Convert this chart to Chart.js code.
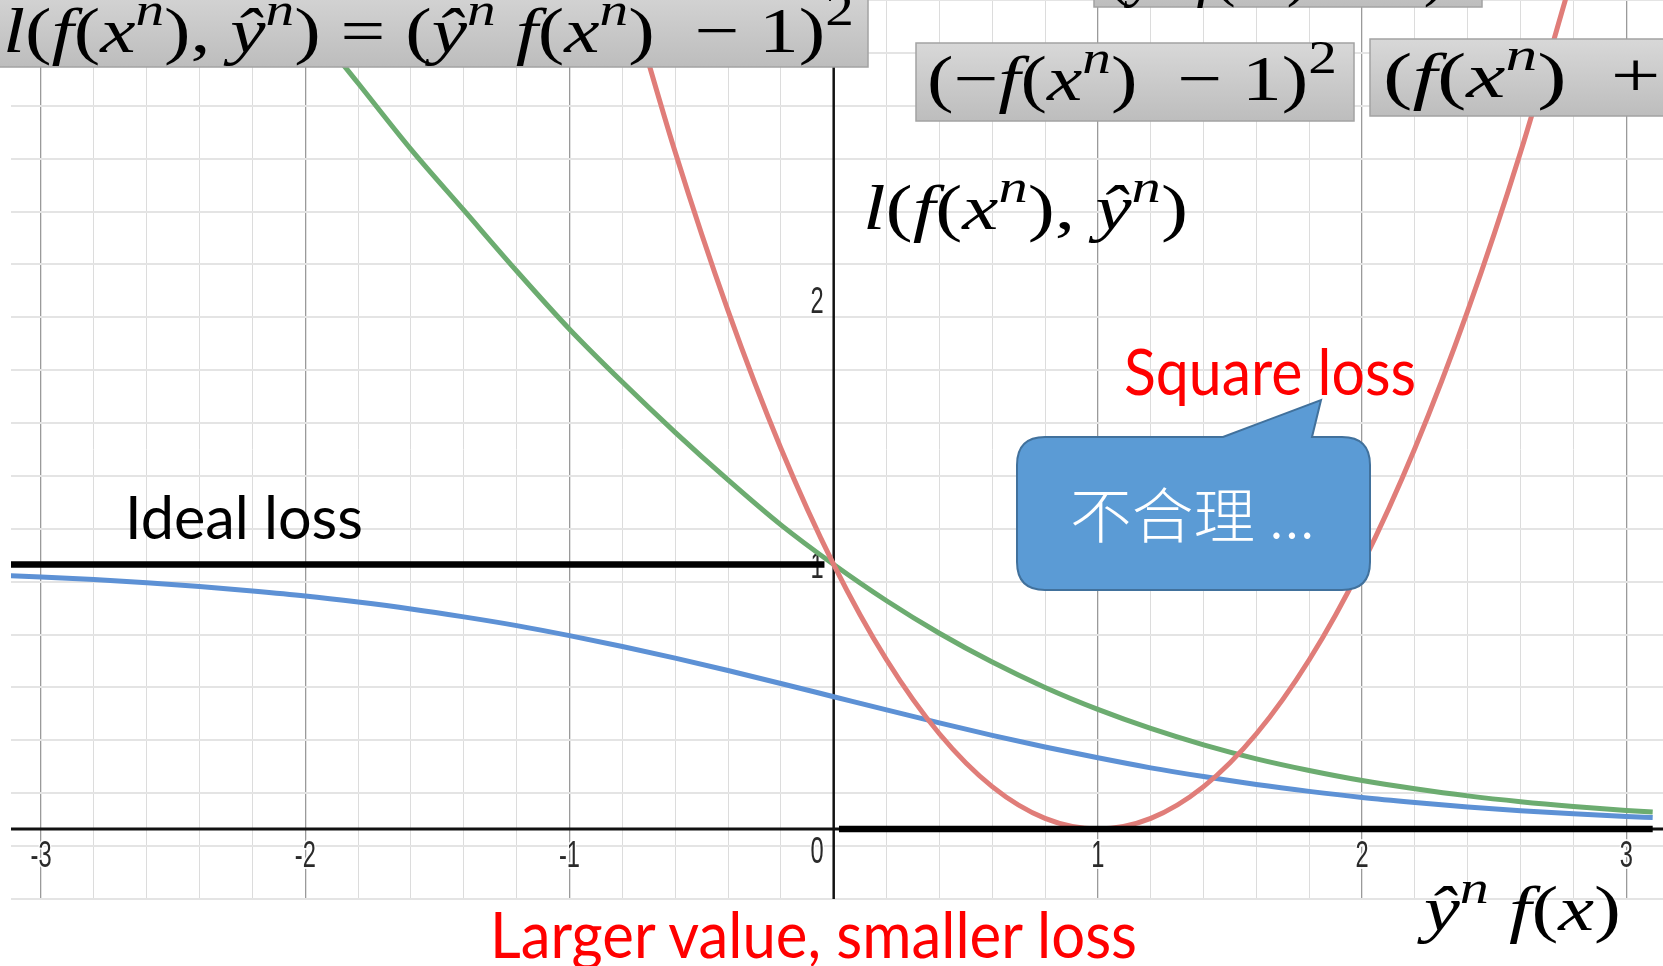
<!DOCTYPE html>
<html>
<head>
<meta charset="utf-8">
<script src="https://cdn.jsdelivr.net/npm/chart.js@4"></script>
<style>
  html, body { margin: 0; padding: 0; background: #fff; overflow: hidden; }
  #wrap { position: relative; width: 1663px; height: 966px; }
  #lossChart { position: absolute; left: 0; top: 0; }
  #notes { position: absolute; left: 0; top: 0; pointer-events: none; }
  #notes text { white-space: pre; }
</style>
</head>
<body>
<div id="wrap">
  <canvas id="lossChart" width="1663" height="966"></canvas>
  <svg id="notes" width="1663" height="966" xmlns="http://www.w3.org/2000/svg"></svg>
</div>
<script>
// sample positions along y^n f(x)
const xs = [-3.2, -3.0, -2.8, -2.6, -2.4, -2.2, -2.0, -1.8, -1.6, -1.4, -1.2, -1.0, -0.8,
  -0.6, -0.4, -0.2, 0, 0.2, 0.4, 0.6, 0.8, 1.0, 1.2, 1.4, 1.6, 1.8, 2.0, 2.2, 2.4, 2.6,
  2.8, 3.0, 3.1];

// red curve
const squareLoss = [null, null, null, null, null, null, null, null, null, null, null, null,
  3.24, 2.56, 1.96, 1.44, 1, 0.64, 0.36, 0.16, 0.04, 0, 0.04, 0.16, 0.36, 0.64, 1, 1.44,
  1.96, 2.56, 3.24, null, null];

// green curve
const crossEntropyLoss = [null, null, null, null, null, 3.33, 3.07, 2.82, 2.57, 2.34, 2.11,
  1.89, 1.69, 1.50, 1.32, 1.15, 1.00, 0.863, 0.740, 0.631, 0.535, 0.452, 0.380, 0.318,
  0.265, 0.221, 0.183, 0.152, 0.125, 0.103, 0.085, 0.070, 0.064];

// blue curve
const sigmoidLoss = [0.961, 0.953, 0.943, 0.931, 0.917, 0.900, 0.881, 0.858, 0.832, 0.802,
  0.769, 0.731, 0.690, 0.646, 0.599, 0.550, 0.500, 0.450, 0.401, 0.354, 0.310, 0.269,
  0.231, 0.198, 0.168, 0.142, 0.119, 0.100, 0.083, 0.069, 0.057, 0.047, 0.043];

// black step (ideal loss)
const idealX = [-3.2, -0.035, -0.035, 0.02, 3.1];
const idealY = [1, 1, null, 0, 0];

// axis numbers
const xTicks = [-3, -2, -1, 1, 2, 3];
const yTicks = [1, 2, 3];

function points(xv, yv) {
  return xv.map((x, i) => ({ x: x, y: yv[i] }));
}

function isMajor(v) {
  return Math.abs(v - Math.round(v)) < 1e-6;
}

// origin axes and desmos style numbers, drawn under the curves
const originAxes = {
  id: 'originAxes',
  beforeDatasetsDraw(chart) {
    const { ctx, chartArea: a, scales: { x, y } } = chart;
    const px0 = x.getPixelForValue(0);
    const py0 = y.getPixelForValue(0);
    ctx.save();
    ctx.strokeStyle = '#111';
    ctx.lineWidth = 2.5;
    ctx.beginPath();
    ctx.moveTo(px0, a.top);
    ctx.lineTo(px0, a.bottom);
    ctx.stroke();
    ctx.lineWidth = 3;
    ctx.beginPath();
    ctx.moveTo(a.left, py0);
    ctx.lineTo(a.right, py0);
    ctx.stroke();

    ctx.font = '37px "Liberation Sans", Arial, sans-serif';
    ctx.textBaseline = 'middle';
    const label = (txt, px, py, align) => {
      ctx.save();
      ctx.translate(px, py);
      ctx.scale(0.64, 1);
      ctx.textAlign = align;
      ctx.lineWidth = 4;
      ctx.strokeStyle = 'rgba(255,255,255,0.85)';
      ctx.strokeText(txt, 0, 0);
      ctx.fillStyle = '#2a2a2a';
      ctx.fillText(txt, 0, 0);
      ctx.restore();
    };
    xTicks.forEach(v => label(String(v), x.getPixelForValue(v), py0 + 28, 'center'));
    yTicks.forEach(v => label(String(v), px0 - 10, y.getPixelForValue(v) + 3, 'right'));
    label('0', px0 - 10, py0 + 24, 'right');
    ctx.restore();
  }
};

function gridColor(minor, major) {
  return (c) => {
    const v = c.tick ? c.tick.value : 1;
    if (Math.abs(v) < 1e-6) return 'rgba(0,0,0,0)';
    return isMajor(v) ? major : minor;
  };
}
function gridWidth(minor, major) {
  return (c) => (c.tick && isMajor(c.tick.value) ? major : minor);
}

const curve = (label, values, color) => ({
  label: label,
  data: points(xs, values),
  borderColor: color,
  borderWidth: 5,
  pointRadius: 0,
  cubicInterpolationMode: 'monotone',
  spanGaps: false
});

new Chart(document.getElementById('lossChart'), {
  type: 'line',
  data: {
    datasets: [
      {
        label: 'Ideal loss',
        data: points(idealX, idealY),
        borderColor: '#000',
        borderWidth: 6.5,
        pointRadius: 0,
        tension: 0,
        spanGaps: false
      },
      curve('Square loss', squareLoss, '#e07d79'),
      curve('Cross entropy', crossEntropyLoss, '#6cac70'),
      curve('Sigmoid', sigmoidLoss, '#5d91d5')
    ]
  },
  options: {
    responsive: false,
    animation: false,
    events: [],
    layout: { padding: { left: 11, right: 0, top: 0, bottom: 67 } },
    plugins: { legend: { display: false }, tooltip: { enabled: false } },
    scales: {
      x: {
        type: 'linear',
        min: -3.114,
        max: 3.139,
        ticks: { display: false, stepSize: 0.2, includeBounds: false, autoSkip: false },
        grid: { drawTicks: false, color: gridColor('#dcdcdc', '#9a9a9a'), lineWidth: gridWidth(1, 1.3) },
        border: { display: false }
      },
      y: {
        type: 'linear',
        min: -0.265,
        max: 3.135,
        ticks: { display: false, stepSize: 0.2, includeBounds: false, autoSkip: false },
        grid: { drawTicks: false, color: gridColor('#e4e4e4', '#a8a8a8'), lineWidth: gridWidth(2, 1.5) },
        border: { display: false }
      }
    }
  },
  plugins: [originAxes]
});

// ---- text notes on top of the plot ----
const NS = 'http://www.w3.org/2000/svg';
const svg = document.getElementById('notes');

function el(tag, attrs, parent) {
  const e = document.createElementNS(NS, tag);
  Object.keys(attrs).forEach(k => e.setAttribute(k, attrs[k]));
  (parent || svg).appendChild(e);
  return e;
}

const defs = el('defs', {});
const grad = el('linearGradient', { id: 'boxFill', x1: 0, y1: 0, x2: 0, y2: 1 }, defs);
el('stop', { offset: '0', 'stop-color': '#d8d8d8' }, grad);
el('stop', { offset: '1', 'stop-color': '#bdbdbd' }, grad);

function box(x, y, w, h) {
  el('rect', { x, y, width: w, height: h, fill: 'url(#boxFill)', stroke: '#a3a3a3', 'stroke-width': 1.5 });
}

// letters italic, "^c" raises c as a superscript
function mathText(str, x, y, size, width) {
  const attrs = { x, y, 'font-size': size, 'font-family': '"Liberation Serif", "DejaVu Serif", serif', fill: '#000' };
  if (width) { attrs.textLength = width; attrs.lengthAdjust = 'spacingAndGlyphs'; }
  const t = el('text', attrs);
  let shift = 0;
  for (let i = 0; i < str.length; i++) {
    let ch = str[i];
    let sup = false;
    if (ch === '^') { sup = true; ch = str[++i]; }
    const span = el('tspan', {}, t);
    if (/[a-zŷ]/.test(ch)) span.setAttribute('font-style', 'italic');
    const want = sup ? -0.42 * size : 0;
    if (want !== shift) { span.setAttribute('dy', want - shift); shift = want; }
    if (sup) span.setAttribute('font-size', size * 0.72);
    span.textContent = ch;
  }
  return t;
}

function plainText(str, x, y, size, width, color, family) {
  const t = el('text', {
    x, y, 'font-size': size, fill: color,
    'font-family': family || 'Lato, "Open Sans", sans-serif',
    textLength: width, lengthAdjust: 'spacingAndGlyphs'
  });
  t.textContent = str;
  return t;
}

box(-5, -20, 873, 87);
mathText('l(f(x^n), ŷ^n) = (ŷ^n f(x^n)  − 1)^2', 3, 52, 64, 851);

box(1094, -60, 388, 67);
mathText('(ŷ^n f(x^n)  − 1)^2', 1108, -6, 64, 360);

box(916, 43, 438, 78);
mathText('(−f(x^n)  − 1)^2', 927, 100, 64, 410);

box(1370, 39, 340, 77);
mathText('(f(x^n)  + 1)^2', 1383, 97, 64, 405);

mathText('l(f(x^n), ŷ^n)', 863, 229, 64, 325);
mathText('ŷ^n f(x)', 1424, 930, 64, 197);

plainText('Ideal loss', 125, 539, 60, 238, '#000');
plainText('Square loss', 1124, 395, 64, 292, '#ff0000');
plainText('Larger value, smaller loss', 490, 958, 64, 647, '#ff0000');

// speech bubble
const L = 1017, R = 1370, T = 437, B = 590, r = 28;
el('path', {
  d: `M${L + r},${T} L1223,${T} L1321,400 L1312,${T} L${R - r},${T} Q${R},${T} ${R},${T + r} ` +
     `L${R},${B - r} Q${R},${B} ${R - r},${B} L${L + r},${B} Q${L},${B} ${L},${B - r} ` +
     `L${L},${T + r} Q${L},${T} ${L + r},${T} Z`,
  fill: '#5b9bd5', stroke: '#41719c', 'stroke-width': 2
});
const cjk = plainText('不合理 ...', 1070, 538, 60, 245, '#fff', '"Noto Sans CJK TC", "Noto Sans CJK SC", sans-serif');
cjk.setAttribute('font-weight', 300);
</script>
</body>
</html>
